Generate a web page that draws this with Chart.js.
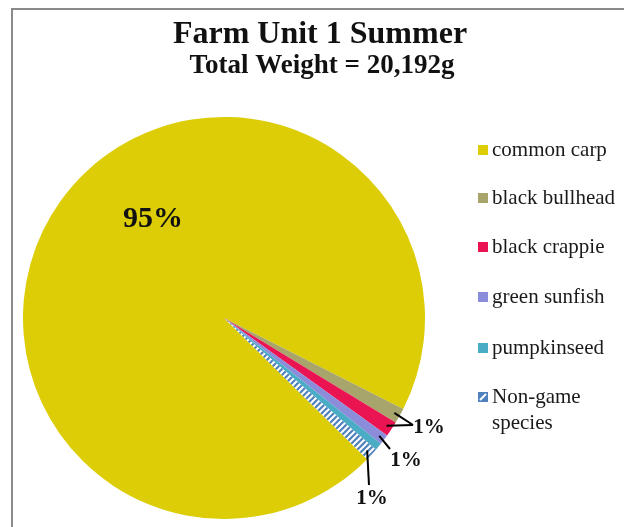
<!DOCTYPE html>
<html>
<head>
<meta charset="utf-8">
<script src="https://cdn.jsdelivr.net/npm/chart.js@4/dist/chart.umd.min.js"></script>
<style>
  html, body { margin: 0; padding: 0; background: #fff; overflow: hidden; }
  #frame {
    position: absolute; left: 11px; top: 8px; width: 700px; height: 600px;
    border-left: 2px solid #8a8a8a; border-top: 2px solid #8a8a8a;
  }
  #fishChart { position: absolute; left: 0; top: 0; }
</style>
</head>
<body>
<div id="frame"></div>
<canvas id="fishChart" width="624" height="527"></canvas>
<script>
// Fish species and their total weight (grams)
const species = ['common carp', 'black bullhead', 'black crappie', 'green sunfish', 'pumpkinseed', 'Non-game species'];
const weights = [19200, 248, 248, 165, 124, 207];
const sliceColors = ['#DCCD06', '#A7A56B', '#EB1452', '#8B8DDB', '#4AACC5', '#4F81BD'];

const chartTitle = 'Farm Unit 1 Summer';
const chartSubtitle = 'Total Weight = 20,192g';

const serif = '"Liberation Serif", "Times New Roman", serif';

// striped fill for the non-game slice
function makeStripes(base) {
  const s = 6;
  const c = document.createElement('canvas');
  c.width = s; c.height = s;
  const g = c.getContext('2d');
  g.fillStyle = base;
  g.fillRect(0, 0, s, s);
  g.strokeStyle = '#ffffff';
  g.lineWidth = 2;
  g.beginPath();
  g.moveTo(-1, s + 1); g.lineTo(s + 1, -1);
  g.moveTo(-1, 1); g.lineTo(1, -1);
  g.moveTo(s - 1, s + 1); g.lineTo(s + 1, s - 1);
  g.stroke();
  return g.createPattern(c, 'repeat');
}

const stripes = makeStripes(sliceColors[5]);
const fills = sliceColors.map((c, i) => i === 5 ? stripes : c);

function pct(i) {
  const total = weights.reduce((a, b) => a + b, 0);
  return Math.round(weights[i] / total * 100) + '%';
}

// titles and legend drawn next to the pie
const decorPlugin = {
  id: 'decor',
  afterDraw(chart) {
    const ctx = chart.ctx;
    ctx.save();
    ctx.fillStyle = '#111';
    ctx.textAlign = 'center';
    ctx.textBaseline = 'alphabetic';
    ctx.font = 'bold 32px ' + serif;
    ctx.fillText(chartTitle, 320, 43);
    ctx.font = 'bold 27px ' + serif;
    ctx.fillText(chartSubtitle, 322, 73);

    // legend
    const rows = [150, 198, 247, 297, 348, 397];
    ctx.textAlign = 'left';
    ctx.textBaseline = 'middle';
    ctx.font = '21px ' + serif;
    species.forEach((name, i) => {
      const y = rows[i];
      if (i === 5) {
        ctx.fillStyle = sliceColors[5];
        ctx.fillRect(478, y - 5, 10, 10);
        ctx.strokeStyle = '#fff';
        ctx.lineWidth = 2;
        ctx.beginPath();
        ctx.moveTo(480, y + 3); ctx.lineTo(486, y - 3);
        ctx.stroke();
      } else {
        ctx.fillStyle = fills[i];
        ctx.fillRect(478, y - 5, 10, 10);
      }
      ctx.fillStyle = '#1a1a1a';
      if (name === 'Non-game species') {
        ctx.fillText('Non-game', 492, y);
        ctx.fillText('species', 492, y + 26);
      } else {
        ctx.fillText(name, 492, y);
      }
    });
    ctx.restore();
  }
};

// percentage labels with leader lines
const labelPlugin = {
  id: 'pctLabels',
  afterDatasetsDraw(chart) {
    const ctx = chart.ctx;
    const arcs = chart.getDatasetMeta(0).data;
    const cx = arcs[0].x, cy = arcs[0].y;
    ctx.save();
    ctx.fillStyle = '#111';
    ctx.textAlign = 'center';
    ctx.textBaseline = 'middle';
    ctx.font = 'bold 30px ' + serif;
    ctx.fillText(pct(0), cx - 71, cy - 99);

    // label offsets from pie centre, and which slices point to them
    const groups = [
      { dx: 205, dy: 110, ax: 189, ay: 107, lines: [1, 2], value: 1 },
      { dx: 182, dy: 143, ax: 166, ay: 131, lines: [3], value: 3 },
      { dx: 148, dy: 181, ax: 145, ay: 167, lines: [5], value: 5 }
    ];
    ctx.strokeStyle = '#000';
    ctx.lineWidth = 2;
    groups.forEach(gp => {
      gp.lines.forEach(s => {
        const a = arcs[s];
        const mid = (a.startAngle + a.endAngle) / 2;
        const r = a.outerRadius * 0.97;
        ctx.beginPath();
        ctx.moveTo(cx + Math.cos(mid) * r, cy + Math.sin(mid) * r);
        ctx.lineTo(cx + gp.ax, cy + gp.ay);
        ctx.stroke();
      });
      ctx.font = 'bold 21px ' + serif;
      ctx.fillText(pct(gp.value), cx + gp.dx, cy + gp.dy);
    });
    ctx.restore();
  }
};

new Chart(document.getElementById('fishChart'), {
  type: 'pie',
  data: {
    labels: species,
    datasets: [{
      data: weights,
      backgroundColor: fills,
      borderWidth: 0
    }]
  },
  options: {
    responsive: false,
    animation: false,
    rotation: 134.6,
    layout: { padding: { left: 23, right: 199, top: 117, bottom: 8 } },
    plugins: {
      legend: { display: false },
      title: { display: false },
      tooltip: { enabled: false }
    }
  },
  plugins: [decorPlugin, labelPlugin]
});
</script>
</body>
</html>
